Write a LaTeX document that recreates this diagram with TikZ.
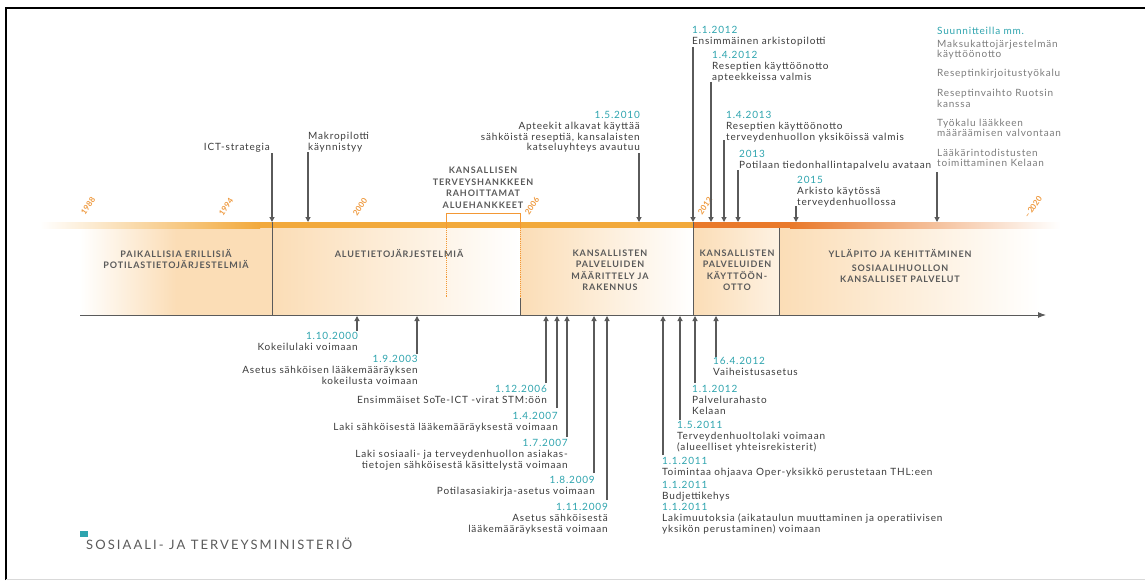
\documentclass[tikz,border=0pt]{standalone}
\usepackage{fontspec}
\setmainfont{Lato}
\newfontfamily\bodyfont[LetterSpace=8]{Lato}
\newfontfamily\phasefont[LetterSpace=10]{Lato}
\newfontfamily\logofont[LetterSpace=16]{Lato}
\usetikzlibrary{arrows.meta}
\definecolor{tgrey}{HTML}{3C3C3C}
\definecolor{pgrey}{HTML}{7C7C7C}
\definecolor{tealc}{HTML}{2EA4AE}
\definecolor{bandO}{HTML}{F2A93B}
\definecolor{bandD}{HTML}{E9792A}
\definecolor{peach}{HTML}{FBDDB6}
\definecolor{yearO}{HTML}{EE9A40}
\definecolor{lgrey}{HTML}{5A5A5A}
\newcommand{\datum}[1]{{\color{tealc}#1}}
\begin{document}
\begin{tikzpicture}[x=1pt,y=-1pt,
  txt/.style={font=\bodyfont\fontsize{10}{10.6}\selectfont, text=tgrey, inner sep=0pt},
  plan/.style={font=\bodyfont\fontsize{10}{10.6}\selectfont, text=pgrey, inner sep=0pt, align=left},
  phase/.style={font=\phasefont\bfseries\fontsize{9}{11.5}\selectfont, text=lgrey, align=center, inner sep=0pt},
  yr/.style={font=\bfseries\fontsize{8}{8}\selectfont, text=yearO, rotate=55, inner sep=0pt},
  darr/.style={draw=lgrey, line width=1.1pt, -{Triangle[length=5pt,width=5pt]}},
  sep/.style={draw=lgrey, line width=1pt}]
\useasboundingbox (0,0) rectangle (1145,583);
% frame
\draw[black, line width=2pt] (6,580) -- (6,8) -- (1145,8);
\draw[black!15, line width=0.8pt] (6,579) -- (1145,579);

% panels
\shade[left color=white, right color=peach, middle color=peach] (80,228) rectangle (272,315);
\shade[left color=peach, right color=white] (272,228) rectangle (520,315);
\shade[left color=peach, right color=white] (520,228) rectangle (693,315);
\shade[left color=peach, right color=white!60!peach] (693,228) rectangle (779,315);
\shade[left color=peach, right color=white] (779,228) rectangle (1040,315);

% band
\shade[left color=white, right color=bandO] (40,222) rectangle (260,228);
\fill[bandO] (260,222) rectangle (693,228);
\fill[bandD] (693,222) rectangle (790,228);
\shade[left color=bandD, right color=white] (790,222) rectangle (1060,228);

% year labels
\node[yr] (y1988) at (88,206) {1988};
\node[yr] (y1994) at (226,207) {1994};
\node[yr] (y2000) at (360,207) {2000};
\node[yr] (y2006) at (532,206) {2006};
\node[yr] (y2012) at (705,206) {2012};
\node[yr] (y2020) at (1033,207) {–\,2020};

% orange box
\draw[bandO!90!red, line width=0.9pt] (446,228) -- (446,213) -- (520,213) -- (520,228);
\draw[bandO!90!red, line width=0.9pt, densely dotted] (446,228) -- (446,298);
\draw[bandO!90!red, line width=0.9pt, densely dotted] (520,228) -- (520,298);
\draw[sep] (520,298) -- (520,315);

% separators
\draw[sep] (272,222) -- (272,315);
\draw[sep] (693,222) -- (693,315);
\draw[sep] (779,228) -- (779,315);

% axis
\coordinate (ax0) at (80,315);
\coordinate (ax1) at (1046,315);
\draw[draw=lgrey, line width=1pt, -{Latex[length=8pt,width=6pt]}] (ax0) -- (ax1);

% phase labels
\node[phase] (p1) at (176,259) {PAIKALLISIA ERILLISIÄ\\POTILASTIETOJÄRJESTELMIÄ};
\node[phase] (p2) at (399,253) {ALUETIETOJÄRJESTELMIÄ};
\node[phase] (p3) at (610,270) {KANSALLISTEN\\PALVELUIDEN\\MÄÄRITTELY JA\\RAKENNUS};
\node[phase] (p4) at (737,270) {KANSALLISTEN\\PALVELUIDEN\\KÄYTTÖÖN-\\OTTO};
\node[phase] (p5) at (900,266) {YLLÄPITO JA KEHITTÄMINEN\\[2pt]SOSIAALIHUOLLON\\KANSALLISET PALVELUT};
\node[phase, anchor=north] (kth) at (483,167) {KANSALLISEN\\TERVEYSHANKKEEN\\RAHOITTAMAT\\ALUEHANKKEET};

% top events
\node[txt, anchor=mid east] (ict) at (270,148) {ICT-strategia};
\coordinate (ictS) at (272,153); \coordinate (ictE) at (272,222);
\draw[darr] (ictS) -- (ictE);

\node[txt, anchor=north west, align=left] (makro) at (308,132) {Makropilotti\\käynnistyy};
\coordinate (makroS) at (308,152); \coordinate (makroE) at (308,222);
\draw[darr] (makroS) -- (makroE);

\node[txt, anchor=north east, align=right] (t2010) at (640,111.5) {\datum{1.5.2010}\\Apteekit alkavat käyttää\\sähköistä reseptiä, kansalaisten\\katseluyhteys avautuu};
\coordinate (t2010S) at (639,153); \coordinate (t2010E) at (639,222);
\draw[darr] (t2010S) -- (t2010E);

\node[txt, anchor=north west, align=left] (t2012a) at (692,26.5) {\datum{1.1.2012}\\Ensimmäinen arkistopilotti};
\coordinate (t2012aS) at (693,47); \coordinate (t2012aE) at (693,222);
\draw[darr] (t2012aS) -- (t2012aE);

\node[txt, anchor=north west, align=left] (t2012b) at (712,51.5) {\datum{1.4.2012}\\Reseptien käyttöönotto\\apteekkeissa valmis};
\coordinate (t2012bS) at (711,82); \coordinate (t2012bE) at (711,222);
\draw[darr] (t2012bS) -- (t2012bE);

\node[txt, anchor=north west, align=left] (t2013a) at (726,111.5) {\datum{1.4.2013}\\Reseptien käyttöönotto\\terveydenhuollon yksiköissä valmis};
\coordinate (t2013aS) at (724,140); \coordinate (t2013aE) at (724,222);
\draw[darr] (t2013aS) -- (t2013aE);

\node[txt, anchor=north west, align=left] (t2013b) at (739,150.5) {\datum{2013}\\Potilaan tiedonhallintapalvelu avataan};
\coordinate (t2013bS) at (738,170); \coordinate (t2013bE) at (738,222);
\draw[darr] (t2013bS) -- (t2013bE);

\node[txt, anchor=north west, align=left] (t2015) at (797,176.5) {\datum{2015}\\Arkisto käytössä\\terveydenhuollossa};
\coordinate (t2015S) at (796,206); \coordinate (t2015E) at (796,222);
\draw[darr] (t2015S) -- (t2015E);

\node[plan, anchor=north west] (plan) at (937,26.5) {\datum{Suunnitteilla mm.}\\[2.5pt]Maksukattojärjestelmän\\käyttöönotto\\[8.5pt]Reseptinkirjoitustyökalu\\[9pt]Reseptinvaihto Ruotsin\\kanssa\\[8.5pt]Työkalu lääkkeen\\määräämisen valvontaan\\[9pt]Lääkärintodistusten\\toimittaminen Kelaan};
\coordinate (planS) at (937,172); \coordinate (planE) at (937,222);
\draw[darr] (planS) -- (planE);

% bottom events, left group
\node[txt, anchor=north east, align=right] (b2000) at (358,332.5) {\datum{1.10.2000}\\Kokeilulaki voimaan};
\coordinate (b2000S) at (357,331); \coordinate (b2000E) at (357,316);
\draw[darr] (b2000S) -- (b2000E);

\node[txt, anchor=north east, align=right] (b2003) at (418,355.5) {\datum{1.9.2003}\\Asetus sähköisen lääkemääräyksen\\kokeilusta voimaan};
\coordinate (b2003S) at (417,354); \coordinate (b2003E) at (417,316);
\draw[darr] (b2003S) -- (b2003E);

\node[txt, anchor=north east, align=right] (b2006) at (547,385.5) {\datum{1.12.2006}\\Ensimmäiset SoTe-ICT -virat STM:öön};
\coordinate (b2006S) at (546,383); \coordinate (b2006E) at (546,316);
\draw[darr] (b2006S) -- (b2006E);

\node[txt, anchor=north east, align=right] (b2007a) at (558,412.5) {\datum{1.4.2007}\\Laki sähköisestä lääkemääräyksestä voimaan};
\coordinate (b2007aS) at (557,408); \coordinate (b2007aE) at (557,316);
\draw[darr] (b2007aS) -- (b2007aE);

\node[txt, anchor=north east, align=right] (b2007b) at (568,439.5) {\datum{1.7.2007}\\Laki sosiaali- ja terveydenhuollon asiakas-\\tietojen sähköisestä käsittelystä voimaan};
\coordinate (b2007bS) at (567,437); \coordinate (b2007bE) at (567,316);
\draw[darr] (b2007bS) -- (b2007bE);

\node[txt, anchor=north east, align=right] (b2009a) at (595,476.5) {\datum{1.8.2009}\\Potilasasiakirja-asetus voimaan};
\coordinate (b2009aS) at (594,473); \coordinate (b2009aE) at (594,316);
\draw[darr] (b2009aS) -- (b2009aE);

\node[txt, anchor=north east, align=right] (b2009b) at (608,503.5) {\datum{1.11.2009}\\Asetus sähköisestä\\lääkemääräyksestä voimaan};
\coordinate (b2009bS) at (607,500); \coordinate (b2009bE) at (607,316);
\draw[darr] (b2009bS) -- (b2009bE);

% bottom events, right group
\node[txt, anchor=north west, align=left] (b2012c) at (713,357.5) {\datum{16.4.2012}\\Vaiheistusasetus};
\coordinate (b2012cS) at (716,357); \coordinate (b2012cE) at (716,316);
\draw[darr] (b2012cS) -- (b2012cE);

\node[txt, anchor=north west, align=left] (b2012d) at (692,385.5) {\datum{1.1.2012}\\Palvelurahasto\\Kelaan};
\coordinate (b2012dS) at (695,383); \coordinate (b2012dE) at (695,316);
\draw[darr] (b2012dS) -- (b2012dE);

\node[txt, anchor=north west, align=left] (b2011a) at (677,421.5) {\datum{1.5.2011}\\Terveydenhuoltolaki voimaan\\(alueelliset yhteisrekisterit)};
\coordinate (b2011aS) at (680,420); \coordinate (b2011aE) at (680,316);
\draw[darr] (b2011aS) -- (b2011aE);

\node[txt, anchor=north west, align=left] (b2011b) at (662,457.5) {\datum{1.1.2011}\\Toimintaa ohjaava Oper-yksikkö perustetaan THL:een};
\coordinate (b2011bS) at (663,455); \coordinate (b2011bE) at (663,316);
\draw[darr] (b2011bS) -- (b2011bE);

\node[txt, anchor=north west, align=left] (b2011c) at (662,481.5) {\datum{1.1.2011}\\Budjettikehys};
\node[txt, anchor=north west, align=left] (b2011d) at (662,503.5) {\datum{1.1.2011}\\Lakimuutoksia (aikataulun muuttaminen ja operatiivisen\\yksikön perustaminen) voimaan};

% logo
\fill[tealc] (80,531) rectangle (88,537);
\node[font=\logofont\fontsize{13}{13}\selectfont, text=lgrey, anchor=mid west, inner sep=0pt] (stm) at (86,547) {SOSIAALI- JA TERVEYSMINISTERIÖ};
\end{tikzpicture}
\end{document}
